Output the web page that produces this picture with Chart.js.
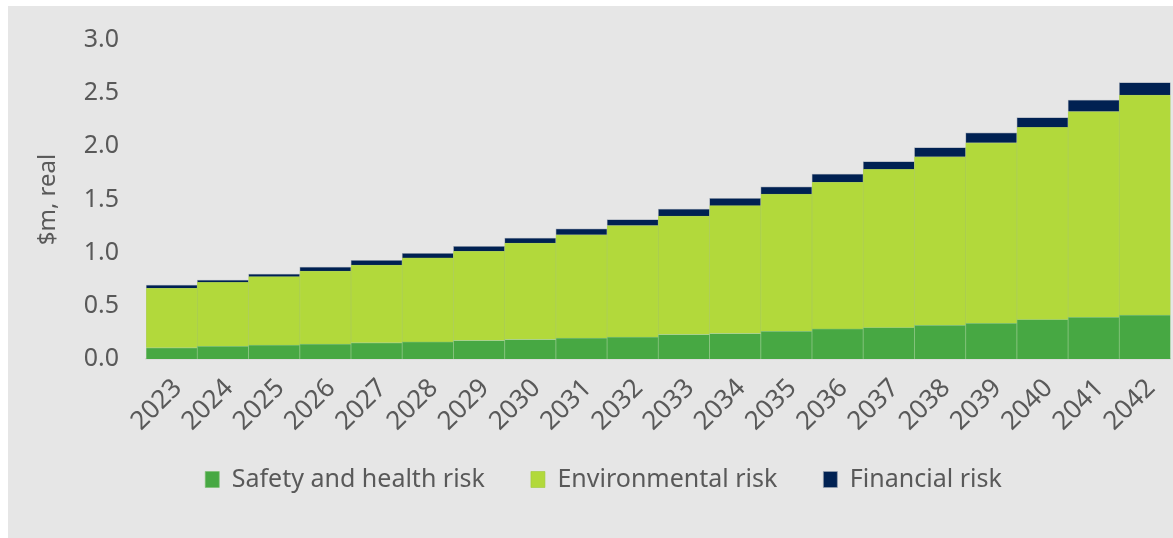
<!DOCTYPE html>
<html lang="en">
<head>
    <meta charset="UTF-8">
    <title>Risk cost by year</title>
    <script src="https://cdn.jsdelivr.net/npm/chart.js"></script>
    <style>
        html, body {
            margin: 0;
            padding: 0;
            background: #ffffff;
        }
        .chart-panel {
            position: absolute;
            left: 8px;
            top: 6px;
            width: 1165px;
            height: 532px;
            background: #e6e6e6;
        }
    </style>
</head>
<body>
    <div class="chart-panel">
        <canvas id="riskChart"></canvas>
    </div>

    <script>
        const years = ['2023', '2024', '2025', '2026', '2027', '2028', '2029', '2030', '2031', '2032',
                       '2033', '2034', '2035', '2036', '2037', '2038', '2039', '2040', '2041', '2042'];

        const safetyHealth = [0.105, 0.118, 0.130, 0.140, 0.152, 0.161, 0.174, 0.183, 0.196, 0.205,
                              0.230, 0.240, 0.261, 0.283, 0.295, 0.317, 0.335, 0.370, 0.391, 0.413];

        const environmental = [0.560, 0.602, 0.644, 0.687, 0.731, 0.790, 0.839, 0.907, 0.972, 1.050,
                               1.115, 1.202, 1.289, 1.379, 1.488, 1.584, 1.699, 1.808, 1.936, 2.069];

        const financial = [0.031, 0.023, 0.025, 0.037, 0.046, 0.043, 0.047, 0.047, 0.056, 0.056,
                           0.065, 0.068, 0.069, 0.078, 0.074, 0.087, 0.094, 0.093, 0.108, 0.118];

        const textColor = '#595959';
        const fontFamily = '"Noto Sans", sans-serif';

        // x scale is squeezed with afterFit so the rotated year labels hang into
        // the legend's empty top padding; widen the label clip box to match
        const labelOverflow = {
            id: 'labelOverflow',
            afterLayout(chart) {
                const x = chart.scales.x;
                x.bottom = x.top + 100;
            }
        };

        new Chart(document.getElementById('riskChart'), {
            type: 'bar',
            data: {
                labels: years,
                datasets: [
                    {
                        label: 'Safety and health risk',
                        data: safetyHealth,
                        backgroundColor: '#47a843',
                        borderColor: 'rgba(120, 190, 110, 0.8)',
                        borderWidth: 0.75
                    },
                    {
                        label: 'Environmental risk',
                        data: environmental,
                        backgroundColor: '#b2d93b',
                        borderColor: 'rgba(160, 200, 60, 0.8)',
                        borderWidth: 0.75
                    },
                    {
                        label: 'Financial risk',
                        data: financial,
                        backgroundColor: '#002152',
                        borderColor: 'rgba(150, 160, 175, 0.9)',
                        borderWidth: 0.75
                    }
                ]
            },
            options: {
                responsive: true,
                maintainAspectRatio: false,
                animation: false,
                datasets: {
                    bar: {
                        categoryPercentage: 1.0,
                        barPercentage: 1.0
                    }
                },
                layout: {
                    padding: { left: 26, right: 0, top: 4, bottom: 36 }
                },
                plugins: {
                    legend: {
                        position: 'bottom',
                        labels: {
                            color: textColor,
                            font: { family: fontFamily, size: 25 },
                            boxWidth: 14,
                            boxHeight: 16,
                            padding: 46
                        }
                    },
                    tooltip: { enabled: false }
                },
                scales: {
                    x: {
                        stacked: true,
                        grid: { display: false },
                        border: { color: '#d4d4d4', width: 1.5 },
                        ticks: {
                            color: textColor,
                            font: { family: fontFamily, size: 26 },
                            maxRotation: 45,
                            minRotation: 45,
                            autoSkip: false,
                            padding: 6,
                            labelOffset: 6
                        },
                        afterFit: scale => { scale.height = 62; }
                    },
                    y: {
                        stacked: true,
                        min: 0,
                        max: 3,
                        grid: { display: false },
                        border: { display: false },
                        ticks: {
                            stepSize: 0.5,
                            color: textColor,
                            font: { family: fontFamily, size: 25 },
                            padding: 19,
                            callback: value => value.toFixed(1)
                        },
                        title: {
                            display: true,
                            text: '$m, real',
                            color: textColor,
                            font: { family: fontFamily, size: 24 },
                            padding: { top: 0, bottom: 2 }
                        }
                    }
                }
            },
            plugins: [labelOverflow]
        });
    </script>
</body>
</html>
